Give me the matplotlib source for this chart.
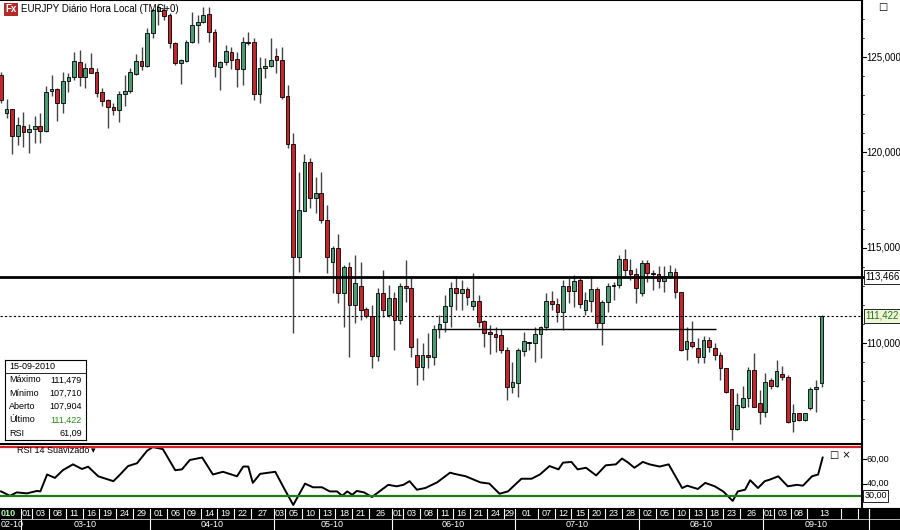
import matplotlib
matplotlib.use("Agg")
import matplotlib.pyplot as plt
from matplotlib.patches import Rectangle
import pandas as pd
import numpy as np

plt.rcParams['font.family'] = ['Liberation Sans', 'DejaVu Sans']

dates = pd.bdate_range('2010-02-23', '2010-09-15')

opens = [124.06,122.07,122.27,120.86,121.38,121.07,121.20,121.38,121.10,123.20,123.30,122.60,123.74,123.95,124.74,123.95,124.43,124.20,123.17,122.75,
         122.38,122.22,123.06,123.22,124.10,124.79,124.53,126.26,127.40,127.47,127.20,125.74,124.69,124.80,125.79,126.68,126.84,127.26,126.31,124.48,
         124.74,125.26,124.90,124.37,125.79,125.79,123.06,124.43,124.53,125.05,124.84,122.96,120.44,114.51,116.90,119.50,117.60,117.87,116.45,114.25,
         114.98,112.62,113.99,111.99,113.00,111.78,111.42,109.32,112.63,111.47,112.36,111.21,112.99,112.89,109.37,108.74,109.37,109.27,110.74,111.10,
         111.94,112.89,112.62,112.84,111.94,112.20,111.15,110.58,110.48,110.42,109.64,107.69,107.90,109.58,110.00,110.00,110.48,110.84,112.20,112.05,
         111.63,112.99,112.73,113.30,111.73,112.20,112.84,111.05,112.15,112.99,113.04,114.41,113.83,113.62,112.62,114.20,113.67,113.62,113.26,113.52,
         113.73,112.68,109.69,110.05,109.74,109.27,110.16,109.74,109.37,108.69,107.59,105.49,106.65,107.12,108.59,106.86,106.38,108.06,107.75,108.38,
         108.22,105.91,106.33,105.96,106.60,107.59,107.904]
closes = [122.75,122.27,120.86,121.44,121.07,121.20,121.38,121.10,123.17,123.30,122.60,123.74,123.95,124.79,123.95,124.43,124.16,123.10,122.70,122.38,
          122.22,123.06,123.22,124.20,124.79,124.53,126.26,127.47,127.60,127.15,125.74,124.69,124.84,125.79,126.68,126.84,127.20,126.31,124.53,124.74,
          125.32,124.84,124.37,125.79,125.74,123.06,124.43,124.53,124.84,124.84,122.90,120.44,114.51,116.98,119.50,117.60,117.87,116.45,114.51,114.98,
          112.62,113.99,111.99,113.15,111.73,111.42,109.32,112.63,111.73,112.36,111.21,112.99,112.89,109.79,108.74,109.37,109.27,110.74,110.99,111.94,
          112.89,112.62,112.84,112.42,112.20,111.10,110.53,110.48,110.32,109.64,107.69,107.95,109.64,110.10,110.00,110.48,110.84,112.20,112.05,111.63,
          112.99,112.73,113.26,112.05,112.26,112.84,111.05,112.15,112.99,113.04,114.41,113.83,113.62,112.89,114.20,113.67,113.62,113.26,113.52,113.73,
          112.68,109.64,110.10,109.85,109.27,110.16,109.79,109.37,108.69,107.43,105.49,106.75,107.12,108.59,106.65,106.38,107.95,107.75,108.53,108.22,
          105.86,106.33,105.96,106.33,107.59,107.70,111.422]
highs = [124.20,122.80,122.30,121.85,122.10,121.50,121.90,122.06,123.50,124.06,123.40,124.20,124.16,125.26,125.37,124.70,125.20,124.40,123.40,122.80,
         122.60,123.20,124.06,124.40,125.16,125.50,126.50,127.50,127.80,127.80,127.30,125.80,124.90,125.90,127.36,127.20,127.60,127.60,126.47,124.80,
         125.63,125.53,125.26,126.05,126.31,126.00,125.00,124.95,126.00,125.47,125.53,123.53,121.00,118.97,119.90,119.70,118.70,118.97,117.24,115.09,
         115.70,114.10,114.25,114.62,114.25,111.90,112.00,112.90,113.83,113.04,112.68,113.15,114.35,113.46,110.26,110.00,110.53,110.95,111.47,112.52,
         113.20,113.46,113.30,112.94,113.67,112.52,111.20,110.95,110.84,110.74,109.79,109.00,109.74,110.58,110.05,110.84,110.90,112.62,112.73,112.36,
         113.30,113.41,113.57,113.46,112.68,113.46,112.94,112.26,113.15,113.20,114.62,114.93,114.41,113.93,114.35,114.35,113.83,114.04,114.04,114.10,
         113.93,112.70,110.84,111.15,110.26,110.37,110.32,110.00,109.53,108.70,107.60,107.38,107.75,108.74,109.48,107.54,108.43,108.17,109.11,108.80,
         108.30,106.80,106.35,106.35,107.70,108.06,111.479]
lows = [122.60,121.80,119.90,120.40,120.30,119.97,120.50,120.50,121.07,122.96,121.65,122.07,123.17,123.80,123.48,123.40,124.16,122.90,122.43,121.28,
        121.96,121.60,122.43,123.10,124.06,124.32,124.48,126.00,126.70,126.94,125.47,124.58,123.60,124.74,125.74,125.74,126.78,125.79,123.95,123.27,
        124.58,124.37,123.43,123.53,125.63,122.75,122.60,123.90,124.48,124.16,122.80,120.23,110.53,113.72,116.90,117.10,116.80,116.30,113.67,112.62,
        112.10,110.84,109.27,111.05,111.21,111.30,108.69,109.06,111.37,111.37,109.64,110.98,112.15,109.27,107.80,108.06,108.69,108.85,110.26,110.58,
        110.84,111.73,111.73,111.99,111.73,110.84,109.79,109.43,109.53,109.48,107.01,107.38,107.17,109.32,109.64,109.00,109.20,110.68,111.73,111.10,
        110.68,112.10,111.89,111.84,111.47,111.63,110.79,109.90,111.63,112.26,112.89,113.41,113.31,112.10,112.47,113.20,112.78,112.89,112.68,113.41,
        112.36,109.58,109.11,109.74,108.95,108.95,109.53,109.11,108.06,107.38,104.92,105.44,106.60,106.65,106.65,105.75,106.12,107.59,107.70,108.06,
        105.80,105.33,105.90,105.90,106.49,106.38,107.710]

rsi_pos = [0,1.6,2.8,4.6,6.4,7,8.2,9.6,11,12.8,14.4,15.5,17.3,20,21.2,22.6,24.2,26,27,28.8,31,32.2,33.6,35.8,37.7,39.5,42,43.1,44,44.8,46.1,48.8,50.5,
           52,54.1,55.5,57.1,58.5,59.8,60.7,61.6,62.5,63.3,64.6,66,68.9,70.4,71.6,72.7,74,75.5,77.6,79.9,
           80.7,82.7,85.3,86.9,88.7,90.2,92.6,94.4,95.9,97.6,99.2,100,101.5,102.6,104.1,105.9,107.6,109.4,110.5,111.6,112.7,114.2,115.4,117.2,118.8,121.2,
           122.1,124,125.3,127,128.5,130.2,131.1,132.4,133.3,134.7,135.9,136.8,138.3,140,141.6,142.7,144.3,145.4,146.2]
rsi_val = [33.6,30,32.8,32,34,33.6,47.5,44.7,51,55.8,52,53.9,46,42,47.5,54.4,56.7,67,70,68.3,51,51.7,59.4,61.4,47.5,49.7,46,54,54,40.6,48,49.7,35,
           22.5,40,37,37,33.6,33.6,30,33.6,30.8,34,32.8,29,39,37.8,39,42,35,36.4,41,49,
           48,46,41,40,31.7,33.6,44,44,47.5,54.4,51.7,57.2,57.8,51.7,53,46.7,55,55.8,60.6,57.2,53,57.8,55.8,54,55.8,36.4,
           38.3,35.6,40.6,37.8,33.6,25.8,33.6,35,42.8,36.4,42,43.3,46,37.8,39,38.3,46,47.5,61.4]

level_res = 113.466
level_last = 111.422
level_mid = 110.74
rsi_hi, rsi_lo = 70, 30
price_ticks = [110.0, 115.0, 120.0, 125.0]
rsi_ticks = [40, 60]

day_labels = {'2010-03': [1,3,8,11,16,19,24,29], '2010-04': [1,6,9,14,19,22,27], '2010-05': [3,5,10,13,18,21,26],
              '2010-06': [1,3,8,11,16,21,24,29], '2010-07': [1,7,12,15,20,23,28], '2010-08': [2,5,10,13,18,23,26],
              '2010-09': [1,3,8,13]}
month_labels = ['02-10','03-10','04-10','05-10','06-10','07-10','08-10','09-10']

W, H = 900, 530
fig = plt.figure(figsize=(9, 5.3), dpi=100)
fig.patch.set_facecolor('white')
def fr(x0, y0, x1, y1):
    return [x0/W, 1-y1/H, (x1-x0)/W, (y1-y0)/H]

step = 5.62
xmin, xmax = -0.18, 861/step
GREEN, RED = '#4c9b75', '#c1272d'

ax = fig.add_axes(fr(0, 0, 862, 443))
ax.set_xlim(xmin, xmax)
ax.set_ylim(104.76, 127.99)
for i in range(len(dates)):
    o, c, h, l = opens[i], closes[i], highs[i], lows[i]
    ax.vlines(i, l, h, color='#444444', lw=1, zorder=2)
    bot, top = min(o, c), max(o, c)
    col = GREEN if c > o else (RED if c < o else 'black')
    ax.add_patch(Rectangle((i-0.33, bot), 0.66, max(top-bot, 0.04), facecolor=col, edgecolor='black', lw=0.6, zorder=3))
ax.axhline(level_res, color='black', lw=2, zorder=4)
ax.axhline(level_last, color='black', lw=0.8, ls=(0, (2, 2)), zorder=4)
ax.hlines(level_mid, 77.6, 127.2, color='black', lw=1, zorder=4)
ax.set_xticks([]); ax.set_yticks([])
for s in ax.spines.values(): s.set_visible(False)
ax.spines['top'].set_visible(True); ax.spines['top'].set_linewidth(1.5)
ax.spines['right'].set_visible(True); ax.spines['right'].set_linewidth(1.5)
ax.text(0.006, 0.99, 'Fx', transform=ax.transAxes, fontsize=7, color='white', va='top', fontweight='bold',
        bbox=dict(facecolor='#b22a2a', edgecolor='none', pad=1))
ax.text(0.024, 0.99, 'EURJPY Diário Hora Local (TMG+0)', transform=ax.transAxes, fontsize=7, va='top')

# right axis
rax = fig.add_axes(fr(862, 0, 900, 443), sharey=ax)
rax.set_xlim(0, 1); rax.axis('off')
for t in price_ticks:
    rax.plot([0, 0.1], [t, t], color='black', lw=0.8)
    rax.text(0.12, t, f'{t:.3f}'.replace('.', ','), fontsize=7, va='center')
for t in np.arange(106, 128, 1.0):
    rax.plot([0, 0.06], [t, t], color='black', lw=0.5)
rax.plot([0, 1], [level_res, level_res], color='black', lw=2)
rax.text(0.1, level_res, f'{level_res:.3f}'.replace('.', ','), fontsize=7, va='center',
         bbox=dict(facecolor='white', edgecolor='black', pad=1.5, lw=0.6))
rax.text(0.1, level_last, f'{level_last:.3f}'.replace('.', ','), fontsize=7, va='center', color='#2c6e1a',
         bbox=dict(facecolor='#eef6d8', edgecolor='black', pad=1.5, lw=0.6))
rax.text(0.55, 127.6, '□', fontsize=7, va='center', ha='center', family='DejaVu Sans')

# info box
ib = fig.add_axes(fr(5, 360, 86, 440)); ib.set_xticks([]); ib.set_yticks([])
for s in ib.spines.values(): s.set_linewidth(0.8)
rows = [('15-09-2010', ''), ('Máximo', '111,479'), ('Mínimo', '107,710'), ('Aberto', '107,904'), ('Último', '111,422'), ('RSI', '61,09')]
for k, (a, b) in enumerate(rows):
    yy = 1 - (k + 0.5) / 6
    ib.text(0.05, yy, a, fontsize=6.5, va='center')
    ib.text(0.95, yy, b, fontsize=6.5, va='center', ha='right', color='#2c8a1a' if a == 'Último' else 'black')
ib.axhline(1 - 1/6, color='black', lw=0.6)

# RSI panel
rs = fig.add_axes(fr(0, 444, 862, 508))
rs.set_xlim(xmin, xmax); rs.set_ylim(20.0, 72.5)
rs.plot(rsi_pos, rsi_val, color='black', lw=1.4)
rs.axhline(rsi_hi, color='#d42020', lw=1.6)
rs.axhline(rsi_lo, color='#1f7a1f', lw=1.6)
rs.set_xticks([]); rs.set_yticks([])
for s in rs.spines.values(): s.set_visible(False)
rs.spines['top'].set_visible(True); rs.spines['top'].set_linewidth(1.5)
rs.spines['right'].set_visible(True); rs.spines['right'].set_linewidth(1.5)
rs.text(0.02, 0.97, 'RSI 14 Suavizado', transform=rs.transAxes, fontsize=6.5, va='top')
rs.text(0.105, 0.97, '▾', transform=rs.transAxes, fontsize=6.5, va='top', family='DejaVu Sans')
rs.text(0.975, 0.9, '□ ×', transform=rs.transAxes, fontsize=7, va='top', ha='center', family='DejaVu Sans')
rr = fig.add_axes(fr(862, 444, 900, 508), sharey=rs); rr.set_xlim(0, 1); rr.axis('off')
for t in rsi_ticks:
    rr.plot([0, 0.1], [t, t], color='black', lw=0.8)
    rr.text(0.12, t, f'{t:.2f}'.replace('.', ','), fontsize=6.5, va='center')
rr.text(0.06, rsi_lo, '30,00', fontsize=6.5, va='center', bbox=dict(facecolor='white', edgecolor='black', pad=1.2, lw=0.6))

# date axis
da = fig.add_axes(fr(0, 508, 900, 530))
da.set_facecolor('black')
da.set_xlim(xmin, xmin + 900/step); da.set_ylim(0, 2)
da.set_xticks([]); da.set_yticks([])
dl = pd.Series(range(len(dates)), index=dates)
starts = []
for ym, days in day_labels.items():
    for d in days:
        starts.append(int(dl[pd.Timestamp(f'{ym}-{d:02d}')]))
starts_all = starts + [len(dates) + 3, len(dates) + 6, len(dates) + 8]
da.text(xmin + 0.1, 1.5, '010', color='#aaffaa', fontsize=6.5, va='center', fontweight='bold')
for k, s0 in enumerate(starts):
    s1 = starts_all[k + 1]
    da.plot([s0 - 0.5, s0 - 0.5], [1.05, 2], color='white', lw=0.8)
    da.text((s0 + s1) / 2 - 0.5, 1.5, dates[s0].strftime('%d'), color='white', fontsize=6.5, ha='center', va='center')
for e in starts_all[len(starts):]:
    da.plot([e - 0.5, e - 0.5], [1.05, 2], color='white', lw=0.8)
mstart = [int(dl[dl.index.month == m].iloc[0]) for m in range(2, 10)]
mend = mstart[1:] + [len(dates) + 8]
for k, lab in enumerate(month_labels):
    s0, s1 = mstart[k], mend[k]
    if k > 0:
        da.plot([s0 - 0.5, s0 - 0.5], [0, 0.95], color='white', lw=0.8)
        da.text((s0 + s1) / 2 - 0.5, 0.5, lab, color='white', fontsize=6.5, ha='center', va='center')
    else:
        da.text(xmin + 0.1, 0.5, lab, color='white', fontsize=6.5, ha='left', va='center')
da.plot([len(dates) + 8 - 0.5]*2, [0, 2], color='white', lw=0.8)
da.axhline(1.0, color='white', lw=0.5)

fig.savefig('out.png', dpi=100)
